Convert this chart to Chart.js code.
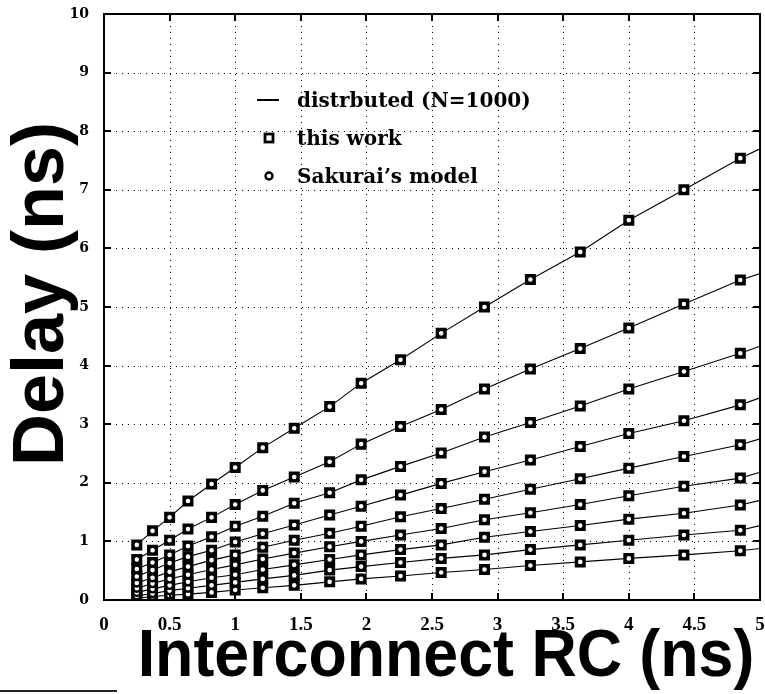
<!DOCTYPE html>
<html>
<head>
<meta charset="utf-8">
<script src="https://cdn.jsdelivr.net/npm/chart.js@4.4.1/dist/chart.umd.min.js"></script>
<style>
  html, body { margin: 0; padding: 0; background: #fff; }
  canvas { display: block; }
</style>
</head>
<body>
<canvas id="chart" width="765" height="694"></canvas>
<script>
// Interconnect RC values (ns) at which the delay was evaluated
const rc = [0.25, 0.37, 0.5, 0.64, 0.82, 1.0, 1.21, 1.45, 1.72, 1.96, 2.26, 2.57, 2.9, 3.25, 3.63, 4.0, 4.42, 4.85];
const rcEnd = 5;

// Delay (ns) for the nine driver/load cases
const case1 = [0.94, 1.18, 1.41, 1.69, 1.98, 2.26, 2.60, 2.93, 3.30, 3.70, 4.10, 4.55, 5.00, 5.47, 5.94, 6.48, 7.00, 7.54];
const case2 = [0.69, 0.85, 1.02, 1.21, 1.41, 1.63, 1.87, 2.10, 2.36, 2.66, 2.96, 3.25, 3.60, 3.94, 4.29, 4.64, 5.05, 5.46];
const case3 = [0.53, 0.64, 0.77, 0.92, 1.08, 1.26, 1.43, 1.65, 1.83, 2.05, 2.28, 2.51, 2.78, 3.03, 3.31, 3.60, 3.90, 4.21];
const case4 = [0.40, 0.51, 0.63, 0.74, 0.85, 0.99, 1.13, 1.28, 1.45, 1.60, 1.79, 1.99, 2.19, 2.39, 2.62, 2.84, 3.06, 3.33];
const case5 = [0.29, 0.38, 0.48, 0.57, 0.68, 0.77, 0.90, 1.02, 1.14, 1.26, 1.42, 1.56, 1.72, 1.89, 2.07, 2.25, 2.45, 2.65];
const case6 = [0.20, 0.28, 0.36, 0.43, 0.52, 0.60, 0.70, 0.80, 0.91, 1.00, 1.11, 1.22, 1.37, 1.49, 1.63, 1.78, 1.94, 2.08];
const case7 = [0.13, 0.19, 0.25, 0.31, 0.38, 0.43, 0.52, 0.60, 0.69, 0.77, 0.86, 0.94, 1.07, 1.17, 1.27, 1.38, 1.48, 1.62];
const case8 = [0.07, 0.11, 0.16, 0.20, 0.25, 0.30, 0.36, 0.42, 0.51, 0.57, 0.64, 0.71, 0.77, 0.86, 0.94, 1.02, 1.11, 1.19];
const case9 = [0.03, 0.06, 0.08, 0.10, 0.13, 0.17, 0.21, 0.25, 0.31, 0.36, 0.41, 0.47, 0.52, 0.59, 0.65, 0.71, 0.77, 0.84];
// distributed-line delay at RC = 5 ns for each case
const caseEnd = [7.70, 5.57, 4.33, 3.45, 2.75, 2.18, 1.70, 1.27, 0.88];

const cases = [case1, case2, case3, case4, case5, case6, case7, case8, case9];
const seriesNames = ['distrbuted (N=1000)', 'this work', 'Sakurai\u2019s model'];

const xTickLabels = ['0', '0.5', '1', '1.5', '2', '2.5', '3', '3.5', '4', '4.5', '5'];
const yTickLabels = ['0', '1', '2', '3', '4', '5', '6', '7', '8', '9', '10'];

const pts = (xs, ys) => ys.map((v, i) => ({ x: xs[i], y: v }));

const datasets = [];
cases.forEach((c, k) => {
  datasets.push({
    label: k === 0 ? seriesNames[0] : '',
    data: pts(rc.concat([rcEnd]), c.concat([caseEnd[k]])),
    showLine: true, borderColor: '#000', borderWidth: 1.1, pointRadius: 0, tension: 0, order: 2
  });
  datasets.push({
    label: k === 0 ? seriesNames[1] : '',
    data: pts(rc, c),
    showLine: false, pointStyle: 'rect', pointRadius: 5.8, borderWidth: 2.8,
    borderColor: '#000', backgroundColor: '#fff', order: 1
  });
  datasets.push({
    label: k === 0 ? seriesNames[2] : '',
    data: pts(rc, c),
    showLine: false, pointStyle: 'circle', pointRadius: 3.5, borderWidth: 2.4,
    borderColor: '#000', backgroundColor: '#fff', order: 0
  });
});

// dotted grid inside the plot area
const dottedGrid = {
  id: 'dottedGrid',
  beforeDatasetsDraw(chart) {
    const { ctx, chartArea: a, scales: { x, y } } = chart;
    ctx.save();
    ctx.strokeStyle = '#000';
    ctx.lineWidth = 1;
    ctx.setLineDash([1, 5]);
    ctx.beginPath();
    x.ticks.forEach(t => {
      const px = Math.round(x.getPixelForValue(t.value)) + 0.5;
      ctx.moveTo(px, a.top); ctx.lineTo(px, a.bottom);
    });
    y.ticks.forEach(t => {
      const py = Math.round(y.getPixelForValue(t.value)) + 0.5;
      ctx.moveTo(a.left, py); ctx.lineTo(a.right, py);
    });
    ctx.stroke();
    ctx.restore();
  }
};

// frame, inward ticks, axis titles, legend and the rule at the bottom left
const decorations = {
  id: 'decorations',
  afterDraw(chart) {
    const { ctx, chartArea: a, scales: { x, y } } = chart;
    ctx.save();
    ctx.strokeStyle = '#000';
    ctx.lineWidth = 2;
    ctx.strokeRect(a.left, a.top, a.right - a.left, a.bottom - a.top);

    const len = 7;
    ctx.beginPath();
    x.ticks.forEach(t => {
      const px = Math.round(x.getPixelForValue(t.value));
      ctx.moveTo(px, a.bottom); ctx.lineTo(px, a.bottom - len);
      ctx.moveTo(px, a.top); ctx.lineTo(px, a.top + len);
    });
    y.ticks.forEach(t => {
      const py = Math.round(y.getPixelForValue(t.value));
      ctx.moveTo(a.left, py); ctx.lineTo(a.left + len, py);
      ctx.moveTo(a.right, py); ctx.lineTo(a.right - len, py);
    });
    ctx.stroke();

    // axis titles
    ctx.fillStyle = '#000';
    ctx.textAlign = 'center';
    ctx.textBaseline = 'alphabetic';
    ctx.save();
    ctx.translate(446, 676);
    ctx.scale(0.95, 1);
    ctx.font = 'bold 66px "Liberation Sans", Arial, sans-serif';
    ctx.fillText('Interconnect RC (ns)', 0, 0);
    ctx.restore();
    ctx.save();
    ctx.translate(63, 294);
    ctx.rotate(-Math.PI / 2);
    ctx.font = 'bold 72px "Liberation Sans", Arial, sans-serif';
    ctx.fillText('Delay (ns)', 0, 0);
    ctx.restore();

    // legend
    ctx.textAlign = 'left';
    ctx.font = 'bold 20px "DejaVu Serif", serif';
    ctx.lineWidth = 2;
    ctx.beginPath();
    ctx.moveTo(257, 100); ctx.lineTo(279, 100);
    ctx.stroke();
    ctx.fillText(seriesNames[0], 297, 107);
    ctx.lineWidth = 2.8;
    ctx.fillStyle = '#fff';
    ctx.fillRect(265, 134, 8, 8);
    ctx.strokeRect(265, 134, 8, 8);
    ctx.lineWidth = 2.4;
    ctx.beginPath();
    ctx.arc(269, 176, 3.5, 0, Math.PI * 2);
    ctx.fill();
    ctx.stroke();
    ctx.fillStyle = '#000';
    ctx.fillText(seriesNames[1], 297, 145);
    ctx.fillText(seriesNames[2], 297, 183);

    // short rule under the axis area
    ctx.strokeStyle = '#222';
    ctx.lineWidth = 2;
    ctx.beginPath();
    ctx.moveTo(0, 691); ctx.lineTo(117, 691);
    ctx.stroke();
    ctx.restore();
  }
};

new Chart(document.getElementById('chart'), {
  type: 'scatter',
  data: { datasets },
  options: {
    responsive: false,
    animation: false,
    devicePixelRatio: 1,
    layout: { autoPadding: false, padding: { left: 0, right: 5, top: 14, bottom: 0 } },
    plugins: { legend: { display: false }, tooltip: { enabled: false } },
    scales: {
      x: {
        type: 'linear', min: 0, max: 5,
        ticks: {
          stepSize: 0.5, padding: 6, color: '#000',
          font: { family: '"Liberation Serif", serif', weight: 'bold', size: 19 },
          callback: (v, i) => xTickLabels[i]
        },
        grid: { display: false },
        border: { display: false },
        afterFit: s => { s.height = 94; s.paddingLeft = 0; s.paddingRight = 0; }
      },
      y: {
        type: 'linear', min: 0, max: 10,
        ticks: {
          stepSize: 1, padding: 7, color: '#000',
          font: { family: '"DejaVu Serif", serif', weight: 'bold', size: 14 },
          callback: (v, i) => yTickLabels[i]
        },
        grid: { display: false },
        border: { display: false },
        afterFit: s => { s.width = 104; s.paddingTop = 0; s.paddingBottom = 0; }
      }
    }
  },
  plugins: [dottedGrid, decorations]
});
</script>
</body>
</html>
